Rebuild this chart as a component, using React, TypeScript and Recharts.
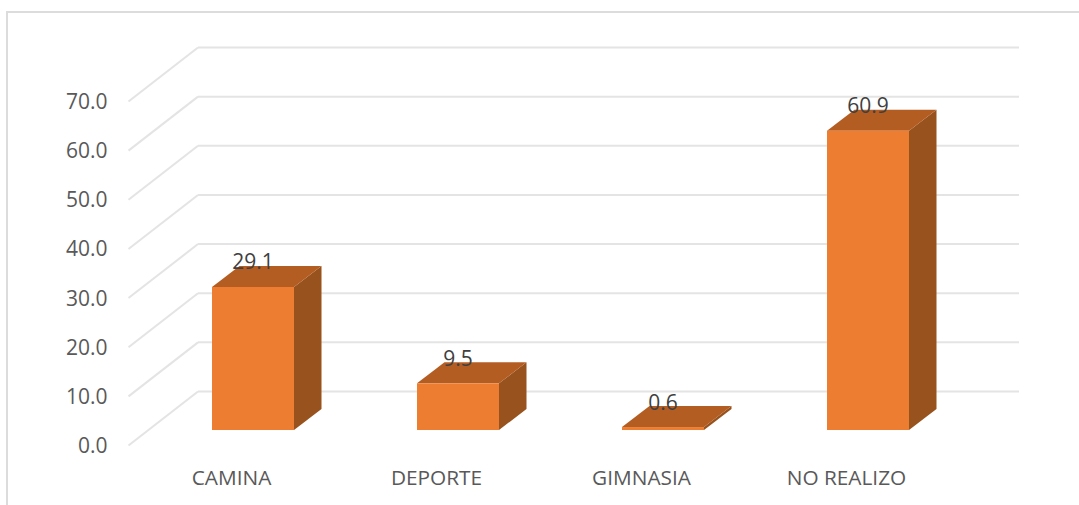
import { BarChart, Bar, XAxis, YAxis, CartesianGrid, LabelList } from 'recharts';

const categories = ['CAMINA', 'DEPORTE', 'GIMNASIA', 'NO REALIZO'];
const values = [29.1, 9.5, 0.6, 60.9];
const yTicks = [0, 10, 20, 30, 40, 50, 60, 70];

const chartData = categories.map((name, i) => ({ name, value: values[i] }));

const FONT = '"Open Sans", sans-serif';
const TEXT_GRAY = '#595959';
const GRID_GRAY = '#e4e4e4';

// 3D look: offset of the bar's back face from its front face
const DEPTH_X = 27.5;
const DEPTH_Y = 21;

// Back wall and floor lines, taken from the y scale and shifted
const GridLine = (props: any) => {
  const { x1, x2, y1 } = props;
  const wallY = y1 - 38.5;
  return (
    <g>
      <line x1={x1 + 48} y1={wallY} x2={x2 + 49} y2={wallY} stroke={GRID_GRAY} strokeWidth={2} />
      <line x1={x1 + 48} y1={wallY} x2={x1 - 21.5} y2={wallY + 54} stroke={GRID_GRAY} strokeWidth={2} />
    </g>
  );
};

const Bar3D = (props: any) => {
  const { x, y, width, height } = props;
  const right = x + width;
  const bottom = y + height;
  return (
    <g>
      <polygon
        points={`${right},${y} ${right + DEPTH_X},${y - DEPTH_Y} ${right + DEPTH_X},${bottom - DEPTH_Y} ${right},${bottom}`}
        fill="#97521d"
      />
      <polygon
        points={`${x},${y} ${x + DEPTH_X},${y - DEPTH_Y} ${right + DEPTH_X},${y - DEPTH_Y} ${right},${y}`}
        fill="#b45d22"
      />
      <rect x={x} y={y} width={width} height={height} fill="#ed7d31" />
    </g>
  );
};

const YTick = (props: any) => {
  const { x, y, payload } = props;
  return (
    <text x={x - 34.5} y={y + 15} textAnchor="end" dominantBaseline="central" fontFamily={FONT} fontSize={21} fill={TEXT_GRAY}>
      {payload.value.toFixed(1)}
    </text>
  );
};

const XTick = (props: any) => {
  const { x, payload } = props;
  return (
    <text x={x - 21} y={476.5} textAnchor="middle" dominantBaseline="central" fontFamily={FONT} fontSize={20.8} fill={TEXT_GRAY}>
      {payload.value}
    </text>
  );
};

const App = () => {
  return (
    <div style={{ position: 'absolute', left: 0, top: 0, width: 1079, height: 505, overflow: 'hidden', background: '#fff' }}>
      <div style={{ position: 'absolute', left: 6, top: 11, right: -4, bottom: -4, border: `2px solid #dcdcdc` }} />
      <BarChart
        width={1079}
        height={505}
        data={chartData}
        margin={{ top: 86, right: 109, bottom: 35, left: 50 }}
        style={{ position: 'absolute', left: 0, top: 0 }}
      >
        <CartesianGrid vertical={false} horizontal={(p: any) => <GridLine key={p.key} {...p} />} />
        <XAxis dataKey="name" height={40} axisLine={false} tickLine={false} tick={<XTick />} interval={0} />
        <YAxis width={100} domain={[0, 70]} ticks={yTicks} axisLine={false} tickLine={false} tick={<YTick />} />
        <Bar dataKey="value" barSize={82} shape={<Bar3D />} isAnimationActive={false}>
          <LabelList
            dataKey="value"
            position="top"
            offset={17.5}
            formatter={(v: any) => Number(v).toFixed(1)}
            style={{ fontFamily: FONT, fontSize: 21, fill: '#404040' }}
          />
        </Bar>
      </BarChart>
    </div>
  );
};

export default App;
